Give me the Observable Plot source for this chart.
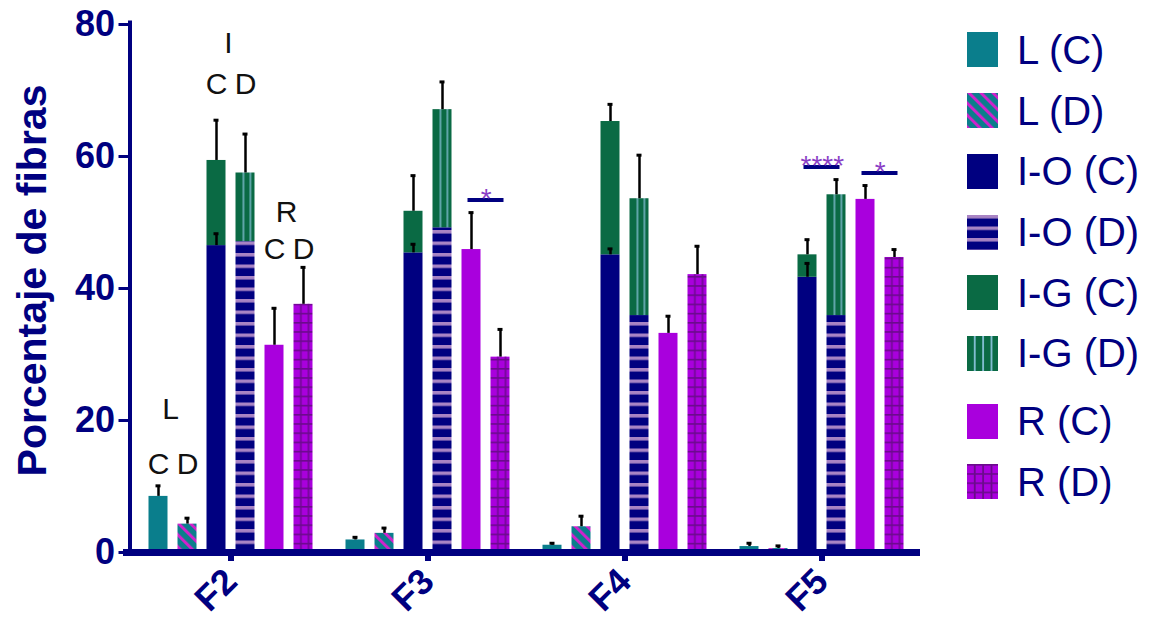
<!DOCTYPE html>
<html><head><meta charset="utf-8">
<script src="https://cdn.jsdelivr.net/npm/d3@7"></script>
<script src="https://cdn.jsdelivr.net/npm/@observablehq/plot@0.6"></script>
<style>
html,body{margin:0;padding:0;background:#fff;}
#wrap{position:relative;width:1149px;height:623px;font-family:"Liberation Sans",Arial,sans-serif;}
#legend{position:absolute;left:967px;top:19.6px;}
.row{display:flex;align-items:center;height:60.7px;}
.row.gap{margin-top:7px;}
.row svg{width:31px;height:35px;display:block;}
.row span{margin-left:19px;font-size:40px;color:#000080;line-height:1;white-space:nowrap;}
</style></head><body><div id="wrap"></div>
<script>
// ---- data ----
const groups = ["F2", "F3", "F4", "F5"];
const positions = ["L C", "L D", "I C", "I D", "R C", "R D"];
const seriesNames = ["L (C)", "L (D)", "I-O (C)", "I-O (D)", "I-G (C)", "I-G (D)", "R (C)", "R (D)"];
const seriesPos   = ["L C", "L D", "I C", "I D", "I C", "I D", "R C", "R D"];

// segment heights (I-G segments sit on top of I-O)
const valLC  = [8.5, 1.9, 1.1, 0.9];
const valLD  = [4.3, 2.9, 3.9, 0.6];
const valIOC = [46.5, 45.4, 45.1, 41.7];
const valIOD = [47.1, 49.2, 35.9, 35.9];
const valIGC = [12.9, 6.3, 20.2, 3.4];
const valIGD = [10.4, 17.9, 17.7, 18.3];
const valRC  = [31.4, 45.9, 33.2, 53.5];
const valRD  = [37.6, 29.6, 42.1, 44.7];

// error (SEM) above each segment; null = not shown
const semLC  = [1.6, 0.4, 0.3, 0.5];
const semLD  = [0.9, 0.8, 1.6, 0.4];
const semIOC = [1.8, 1.3, 0.9, 2.1];
const semIOD = [null, null, null, null];
const semIGC = [6.1, 5.4, 2.6, 2.3];
const semIGD = [5.9, 4.2, 6.6, 2.3];
const semRC  = [5.6, 5.6, 2.6, 2.1];
const semRD  = [5.6, 4.2, 4.3, 1.2];

const seriesValues = [valLC, valLD, valIOC, valIOD, valIGC, valIGD, valRC, valRD];
const seriesSem    = [semLC, semLD, semIOC, semIOD, semIGC, semIGD, semRC, semRD];

// significance brackets
const sigGroup = ["F3", "F5", "F5"];
const sigFrom  = ["R C", "I C", "R C"];
const sigTo    = ["R D", "I D", "R D"];
const sigY     = [53.4, 58.4, 57.5];
const sigText  = ["*", "****", "*"];

// F2 annotations
const annoGroupText = ["L", "I", "R"];
const annoGroupPos  = ["L C", "I C", "R C"];
const annoGroupY    = [21.7, 77.1, 51.6];
const annoCDText = ["C", "D", "C", "D", "C", "D"];
const annoCDPos  = ["L C", "L D", "I C", "I D", "R C", "R D"];
const annoCDY    = [13.3, 13.3, 70.9, 70.9, 46.0, 46.0];

const yTicks = [0, 20, 40, 60, 80];
const yTitle = "Porcentaje de fibras";

// ---- styles ----
const navy = "#000080";
const seriesFills = ["#0a7e8c", "url(#ldiag)", navy, "url(#iohz)", "#0a6a44", "url(#igv)", "#a900dd", "url(#rdh)"];
const legendFills = ["#0a7e8c", "url(#ldiag)", navy, "url(#iohz)", "#0a6a44", "url(#igvL)", "#a900dd", "url(#rdh)"];

// ---- tables ----
const table = [];
seriesNames.forEach((s, i) => groups.forEach((g, j) => table.push({
  group: g, series: s, pos: seriesPos[i], value: seriesValues[i][j], sem: seriesSem[i][j], order: i
})));
const errRows = table.filter(d => d.sem != null).map(d => {
  const top = d3.sum(table.filter(e => e.group === d.group && e.pos === d.pos && e.order <= d.order), e => e.value);
  return {group: d.group, pos: d.pos, top, err: top + d.sem};
});
const sig = sigGroup.map((g, i) => ({group: g, x1: sigFrom[i], x2: sigTo[i], y: sigY[i], text: sigText[i]}));
const annoG = annoGroupText.map((t, i) => ({group: "F2", pos: annoGroupPos[i], y: annoGroupY[i], text: t}));
const annoCD = annoCDText.map((t, i) => ({group: "F2", pos: annoCDPos[i], y: annoCDY[i], text: t}));

const font = "Liberation Sans, Arial, sans-serif";

const plot = Plot.plot({
  width: 1149,
  height: 623,
  marginTop: 24,
  marginBottom: 71,
  marginLeft: 130.5,
  marginRight: 226.8,
  style: {fontFamily: font, overflow: "visible", background: "white"},
  fx: {domain: groups, padding: 0, label: null},
  x: {domain: positions, paddingInner: 0.348, paddingOuter: 0.514, axis: null},
  y: {domain: [0, 80]},
  color: {type: "ordinal", domain: seriesNames, range: seriesFills},
  marks: [
    Plot.barY(table, {fx: "group", x: "pos", y: "value", fill: "series"}),
    Plot.barY(table.filter(d => d.series === "R (D)"), {fx: "group", x: "pos", y: "value", fill: "url(#rdv)"}),
    Plot.ruleX(errRows, {fx: "group", x: "pos", y1: "top", y2: "err", stroke: "#000", strokeWidth: 2.5}),
    Plot.tickY(errRows, {fx: "group", x: "pos", y: "err", stroke: "#000", strokeWidth: 3, insetLeft: 7, insetRight: 7}),
    Plot.ruleY(sig, {fx: "group", x1: "x1", x2: "x2", y: "y", stroke: navy, strokeWidth: 4, insetLeft: 6, insetRight: 6}),
    Plot.text(sig, {fx: "group", x: "x1", y: "y", text: "text", dx: 14.8, dy: 7.6, lineAnchor: "bottom", fill: "#8b3fc6", fontSize: 28, fontFamily: font}),
    Plot.text(annoG, {fx: "group", x: "pos", y: "y", text: "text", dx: 12, fill: "#111", fontSize: 30, fontFamily: font}),
    Plot.text(annoCD, {fx: "group", x: "pos", y: "y", text: "text", fill: "#111", fontSize: 30, fontFamily: font}),
    Plot.ruleY([0], {stroke: navy, strokeWidth: 7, insetLeft: -9}),
    Plot.frame({anchor: "left", facetAnchor: "left", stroke: navy, strokeWidth: 4, dx: -2.5, insetTop: -2}),
    Plot.axisY({anchor: "left", ticks: yTicks, tickSize: 13.5, tickPadding: 4, fontSize: 36, fontWeight: "bold", color: navy, strokeWidth: 3, label: null}),
    Plot.text([yTitle], {frameAnchor: "left", facetAnchor: "left", rotate: -90, lineAnchor: "top", textAnchor: "middle", dx: -116, dy: -8, fill: navy, fontSize: 41, fontWeight: "bold", fontFamily: font}),
    Plot.axisFx({anchor: "bottom", tickRotate: -45, tickSize: 9, tickPadding: 14, fontSize: 36, fontWeight: "bold", color: navy, strokeWidth: 6, label: null})
  ]
});

// pattern definitions
const defs = `
<defs>
  <pattern id="ldiag" patternUnits="userSpaceOnUse" width="8.5" height="8.5" patternTransform="rotate(-45)">
    <rect width="8.5" height="8.5" fill="#0a7e8c"/><rect width="3" height="8.5" fill="#d022cc"/>
  </pattern>
  <pattern id="iohz" patternUnits="userSpaceOnUse" width="10" height="11.5">
    <rect width="10" height="11.5" fill="${navy}"/><rect y="0" width="10" height="3.5" fill="#a884c4"/>
  </pattern>
  <pattern id="igv" patternUnits="objectBoundingBox" patternContentUnits="objectBoundingBox" width="1" height="1">
    <rect width="1" height="1" fill="#0a6a44"/>
    <rect x="0.38" width="0.075" height="1" fill="#80bcd0"/>
    <rect x="0.745" width="0.075" height="1" fill="#80bcd0"/>
  </pattern>
  <pattern id="igvL" patternUnits="objectBoundingBox" patternContentUnits="objectBoundingBox" width="1" height="1">
    <rect width="1" height="1" fill="#0a6a44"/>
    <rect x="0.22" width="0.06" height="1" fill="#80bcd0"/>
    <rect x="0.49" width="0.06" height="1" fill="#80bcd0"/>
    <rect x="0.76" width="0.06" height="1" fill="#80bcd0"/>
  </pattern>
  <pattern id="rdh" patternUnits="userSpaceOnUse" width="10" height="9.2">
    <rect width="10" height="9.2" fill="#a900dd"/><rect width="10" height="1.6" fill="#6b0a8c"/>
  </pattern>
  <pattern id="rdv" patternUnits="objectBoundingBox" patternContentUnits="objectBoundingBox" width="1" height="1">
    <rect x="0.35" width="0.08" height="1" fill="#6b0a8c"/>
    <rect x="0.75" width="0.08" height="1" fill="#6b0a8c"/>
  </pattern>
  <pattern id="rdvL" patternUnits="objectBoundingBox" patternContentUnits="objectBoundingBox" width="1" height="1">
    <rect x="0.22" width="0.06" height="1" fill="#6b0a8c"/>
    <rect x="0.49" width="0.06" height="1" fill="#6b0a8c"/>
    <rect x="0.76" width="0.06" height="1" fill="#6b0a8c"/>
  </pattern>
</defs>`;
plot.insertAdjacentHTML("afterbegin", defs);

const wrap = document.getElementById("wrap");
wrap.appendChild(plot);

// legend
const legend = document.createElement("div");
legend.id = "legend";
seriesNames.forEach((s, i) => {
  const row = document.createElement("div");
  row.className = "row" + (s === "R (C)" ? " gap" : "");
  const extra = s === "R (D)" ? `<rect width="31" height="35" fill="url(#rdvL)"/>` : "";
  row.innerHTML = `<svg viewBox="0 0 31 35"><rect width="31" height="35" fill="${legendFills[i]}"/>${extra}</svg><span>${s}</span>`;
  legend.appendChild(row);
});
wrap.appendChild(legend);
</script>
</body></html>
